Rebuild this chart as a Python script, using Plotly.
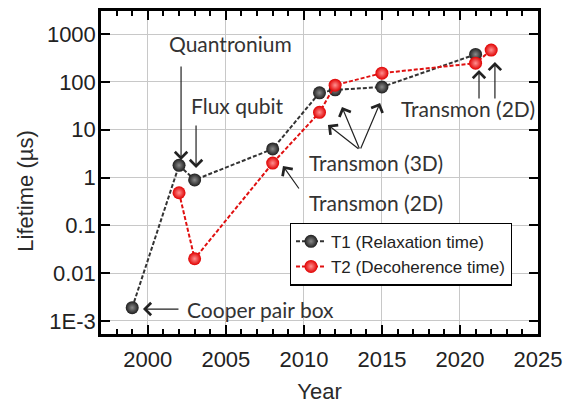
import plotly.graph_objects as go

# ---- data ----
years_t1 = [1999, 2002, 2003, 2008, 2011, 2012, 2015, 2021]
t1_us = [0.0019, 1.8, 0.89, 3.95, 59, 68, 78, 375]
years_t2 = [2002, 2003, 2008, 2011, 2012, 2015, 2021, 2022]
t2_us = [0.48, 0.02, 2.0, 23, 85, 152, 245, 462]

y_tickvals = [1e-3, 0.01, 0.1, 1, 10, 100, 1000]
y_ticktext = ["1E-3", "0.01", "0.1", "1", "10", "100", "1000"]
x_tickvals = [2000, 2005, 2010, 2015, 2020, 2025]

# labels: (text, x year, log10 y, xanchor)
labels = [
    ("Quantronium", 2005.27, 2.81, "center"),
    ("Flux qubit", 2005.71, 1.515, "center"),
    ("Transmon (3D)", 2014.62, 0.324, "center"),
    ("Transmon (2D)", 2014.62, -0.533, "center"),
    ("Transmon (2D)", 2020.51, 1.453, "center"),
    ("Cooper pair box", 2002.38, -2.75, "left"),
]
# arrows: (tip x year, tip log10 y, tail offset px x, tail offset px y)
arrows = [
    (2002.13, 0.366, 0, -95),
    (2003.09, 0.199, 0, -44),
    (2011.54, 1.098, 32, 25),
    (2012.44, 1.474, 18, 43),
    (2014.88, 1.558, -20, 47),
    (2008.66, 0.240, 17, 24),
    (2021.22, 2.247, 0, 30),
    (2022.24, 2.415, 0, 38),
    (1999.69, -2.75, 37, 0),
]

fig = go.Figure()
fig.add_trace(go.Scatter(
    x=years_t1, y=t1_us, mode="lines+markers", name="T1 (Relaxation time)",
    line=dict(color="#333333", width=2, dash="4px,2px"),
    marker=dict(size=13, color="#1e1e1e", line=dict(width=0),
                gradient=dict(type="radial", color="#8a8a8a")),
))
fig.add_trace(go.Scatter(
    x=years_t2, y=t2_us, mode="lines+markers", name="T2 (Decoherence time)",
    line=dict(color="#e01010", width=2, dash="4px,2px"),
    marker=dict(size=13, color="#e00000", line=dict(width=0),
                gradient=dict(type="radial", color="#ff9090")),
))

annos = []
for text, x, ly, xa in labels:
    annos.append(dict(x=x, y=ly, xref="x", yref="y", text=text, showarrow=False,
                      xanchor=xa, yanchor="middle",
                      font=dict(family="Lato", size=21, color="#333333")))
for x, ly, ax, ay in arrows:
    annos.append(dict(x=x, y=ly, xref="x", yref="y", text="", showarrow=True,
                      ax=ax, ay=ay, arrowhead=4, arrowsize=2, arrowwidth=1.2,
                      arrowcolor="#222222", standoff=0))
annos.append(dict(x=-0.172, y=0.443, xref="paper", yref="paper", text="Lifetime (µs)",
                  textangle=-90, showarrow=False, xanchor="center", yanchor="middle",
                  font=dict(family="Liberation Sans, Arial", size=22, color="#2a2a2a")))

axis_common = dict(
    showline=True, linecolor="black", linewidth=2.5, mirror="ticks",
    ticks="inside", ticklen=9, tickwidth=2, tickcolor="black",
    showgrid=True, gridcolor="#c8c8c8", gridwidth=1, zeroline=False,
    automargin=False,
    tickfont=dict(family="Liberation Sans, Arial", size=22, color="#222222"),
)

fig.update_layout(
    width=574, height=404,
    margin=dict(l=101, r=36, t=11, b=70),
    paper_bgcolor="white", plot_bgcolor="white",
    showlegend=True,
    legend=dict(x=0.432, y=0.345, xanchor="left", yanchor="top",
                bordercolor="black", borderwidth=1.2, bgcolor="white",
                font=dict(family="Liberation Sans, Arial", size=17, color="#222222"),
                tracegroupgap=0, itemwidth=30),
    annotations=annos,
    xaxis=dict(range=[1997, 2025], tickvals=x_tickvals,
               minor=dict(dtick=1, ticks="inside", ticklen=5, tickwidth=1.5,
                          tickcolor="black", showgrid=False),
               title=dict(text="Year", standoff=14,
                          font=dict(family="Liberation Sans, Arial", size=22, color="#2a2a2a")),
               ticklabelstandoff=4,
               **axis_common),
    yaxis=dict(type="log", range=[-3.272, 3.481], tickvals=y_tickvals,
               ticktext=y_ticktext, ticklabelstandoff=-2, **axis_common),
)

fig.write_html("out.html", config={"displayModeBar": False},
               post_script="document.body.style.margin='0';")
